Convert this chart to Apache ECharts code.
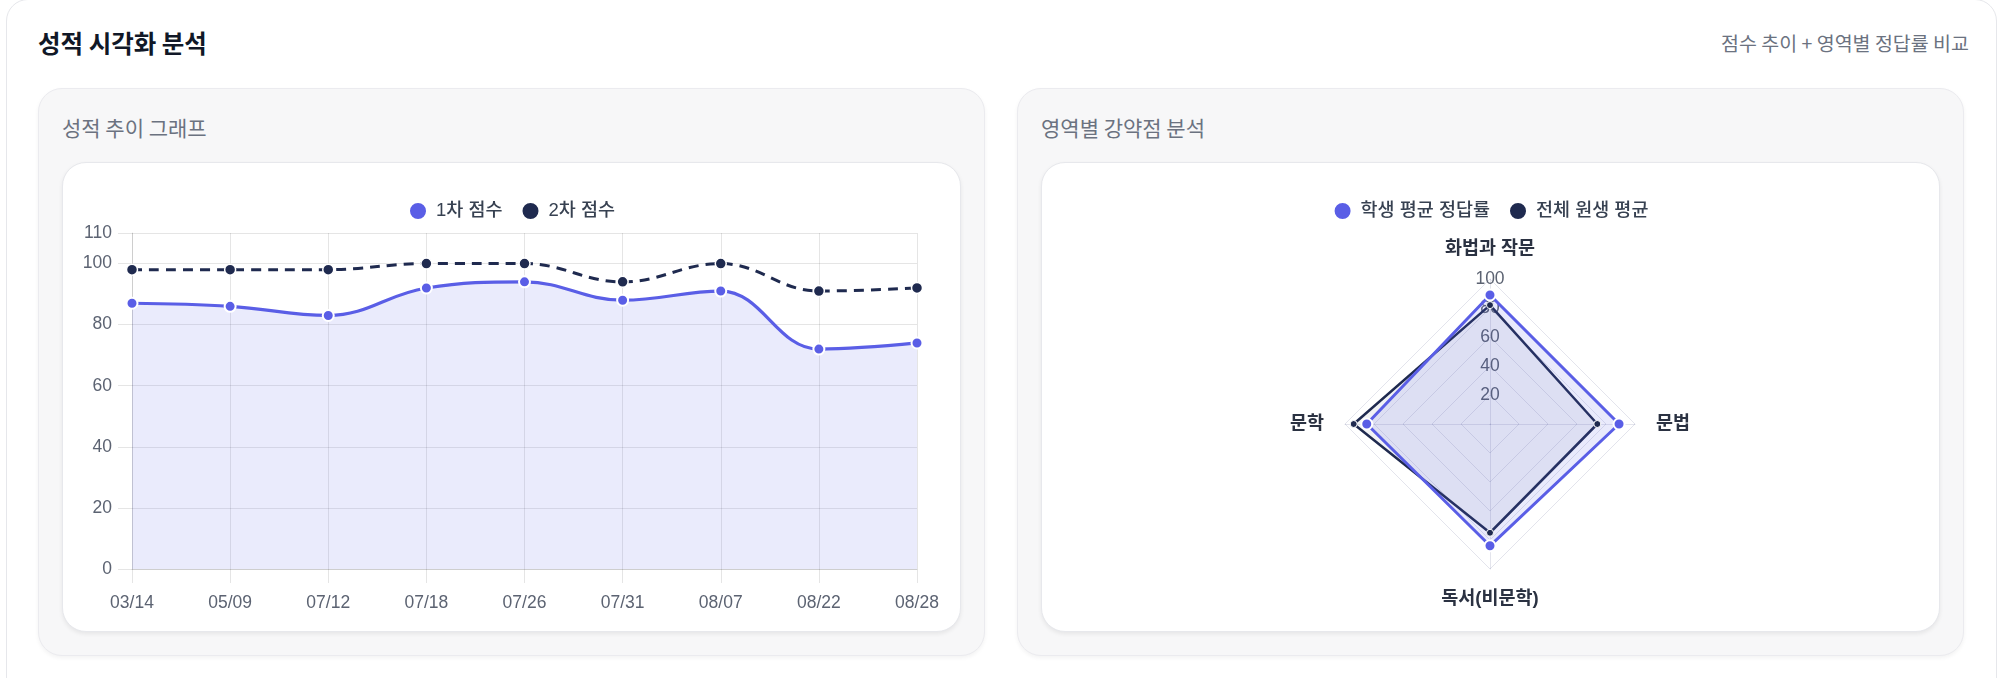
<!DOCTYPE html>
<html>
<head>
<meta charset="utf-8">
<script src="https://cdn.jsdelivr.net/npm/echarts@6/dist/echarts.min.js"></script>
<style>
  html, body { margin:0; padding:0; background:#ffffff; width:2000px; height:678px; overflow:hidden;
    font-family: "Noto Sans CJK KR", "Liberation Sans", sans-serif; }
  .outer { position:absolute; left:6px; top:-1px; width:1991px; height:740px; box-sizing:border-box;
    border:1px solid #e6e7eb; border-radius:22px; background:#ffffff; }
  .title { position:absolute; left:38px; top:26px; font-size:24.5px; font-weight:700; color:#111827; line-height:34px; }
  .subtitle { position:absolute; right:31px; top:29px; font-size:19.5px; color:#6b7280; line-height:28px; }
  .panel { position:absolute; top:88px; width:947px; height:568px; box-sizing:border-box;
    background:#f7f7f8; border:1px solid #ebebef; border-radius:24px; box-shadow:0 2px 4px rgba(0,0,0,0.05); }
  .ptitle { position:absolute; left:23px; top:23px; font-size:21px; color:#6b7280; line-height:30px; }
  .inner { position:absolute; left:23px; top:73px; width:899px; height:470px; box-sizing:border-box;
    background:#ffffff; border:1px solid #e7e8ec; border-radius:24px; box-shadow:0 2px 4px rgba(0,0,0,0.07); }
  .chart { position:absolute; left:0; top:0; width:897px; height:468px; }
</style>
</head>
<body>
<div class="outer"></div>
<div class="title">성적 시각화 분석</div>
<div class="subtitle">점수 추이 + 영역별 정답률 비교</div>
<div class="panel" style="left:38px;">
  <div class="ptitle">성적 추이 그래프</div>
  <div class="inner"><div class="chart" id="lineChart"></div></div>
</div>
<div class="panel" style="left:1017px;">
  <div class="ptitle">영역별 강약점 분석</div>
  <div class="inner"><div class="chart" id="radarChart"></div></div>
</div>
<script>
// ---- data ----
const dates = ['03/14', '05/09', '07/12', '07/18', '07/26', '07/31', '08/07', '08/22', '08/28'];
const score1 = [87, 86, 83, 92, 94, 88, 91, 72, 74];
const score2 = [98, 98, 98, 100, 100, 94, 100, 91, 92];
const seriesNames = ['1차 점수', '2차 점수'];

const areas = ['화법과 작문', '문학', '독서(비문학)', '문법'];
const studentRate = [89, 85, 84, 89];
const overallAvg = [82, 94, 75, 74];
const radarNames = ['학생 평균 정답률', '전체 원생 평균'];

const yMin = 0, yMax = 110, yStep = 20;
const rMax = 100, rSplits = 5;

// ---- styles ----
const INDIGO = '#5a5ee6';
const NAVY = '#1f2a4f';
const GRID = 'rgba(0,0,0,0.1)';
const LABEL = '#5c6372';
const FONT = '"Liberation Sans", "Noto Sans CJK KR", sans-serif';

const legendText = { fontSize: 18.5, color: '#374151', fontWeight: 500, padding: [0, 0, 0, 4], fontFamily: FONT };

const lineChart = echarts.init(document.getElementById('lineChart'));
lineChart.setOption({
  animation: false,
  textStyle: { fontFamily: FONT },
  legend: {
    top: 33, left: 'center', icon: 'circle', itemWidth: 18, itemHeight: 18, itemGap: 18,
    data: seriesNames, textStyle: legendText
  },
  grid: { left: 69, right: 43, top: 70, bottom: 62, containLabel: false },
  xAxis: {
    type: 'category', data: dates, boundaryGap: false,
    axisLine: { show: true, lineStyle: { color: GRID, width: 1 } },
    axisTick: { show: true, length: 14, lineStyle: { color: GRID } },
    splitLine: { show: true, lineStyle: { color: GRID } },
    axisLabel: { margin: 25, fontSize: 17.5, color: LABEL, fontFamily: FONT }
  },
  yAxis: {
    type: 'value', min: yMin, max: yMax, interval: yStep,
    axisLine: { show: true, lineStyle: { color: GRID } },
    axisTick: { show: true, length: 14, lineStyle: { color: GRID } },
    splitLine: { show: true, lineStyle: { color: GRID } },
    axisLabel: { margin: 20, fontSize: 17.5, color: LABEL, fontFamily: FONT }
  },
  series: [
    {
      name: seriesNames[0], type: 'line', data: score1, smooth: 0.4, z: 3,
      symbol: 'circle', symbolSize: 11,
      lineStyle: { color: INDIGO, width: 3.2 },
      itemStyle: { color: INDIGO, borderColor: '#ffffff', borderWidth: 2 },
      areaStyle: { color: 'rgba(90,94,230,0.18)', origin: 'start' }
    },
    {
      name: seriesNames[1], type: 'line', data: score2, smooth: 0.4, z: 2,
      symbol: 'circle', symbolSize: 11,
      lineStyle: { color: NAVY, width: 3, type: [10, 7] },
      itemStyle: { color: NAVY, borderColor: '#ffffff', borderWidth: 1.5 }
    }
  ]
});

const radarChart = echarts.init(document.getElementById('radarChart'));
radarChart.setOption({
  animation: false,
  textStyle: { fontFamily: FONT },
  legend: {
    top: 33, left: 'center', icon: 'circle', itemWidth: 18, itemHeight: 18, itemGap: 18,
    data: radarNames, textStyle: legendText
  },
  radar: {
    center: [448, 261], radius: 145, startAngle: 90, splitNumber: rSplits, shape: 'polygon',
    indicator: areas.map((a, i) => i === 0
      ? { name: a, min: 0, max: rMax }
      : { name: a, min: 0, max: rMax, axisLabel: { show: false } }),
    axisName: { color: '#2b3242', fontSize: 18.5, fontWeight: 600, fontFamily: FONT },
    nameGap: 21,
    axisLine: { lineStyle: { color: 'rgba(40,50,110,0.13)' } },
    splitLine: { lineStyle: { color: 'rgba(40,50,110,0.13)' } },
    splitArea: { show: false },
    axisTick: { show: false },
    axisLabel: { show: true, margin: 0, align: 'center', verticalAlign: 'middle', showMinLabel: false,
      fontSize: 17.5, color: LABEL, fontFamily: FONT }
  },
  series: [{
    type: 'radar',
    data: [
      { name: radarNames[1], value: overallAvg, symbol: 'circle', symbolSize: 7,
        lineStyle: { color: NAVY, width: 2.5 }, itemStyle: { color: NAVY, borderColor: '#fff', borderWidth: 1 },
        areaStyle: { color: 'rgba(31,42,79,0.09)' } },
      { name: radarNames[0], value: studentRate, symbol: 'circle', symbolSize: 11,
        lineStyle: { color: INDIGO, width: 3 }, itemStyle: { color: INDIGO, borderColor: '#fff', borderWidth: 2 },
        areaStyle: { color: 'rgba(90,94,230,0.19)' } }
    ]
  }]
});
</script>
</body>
</html>
